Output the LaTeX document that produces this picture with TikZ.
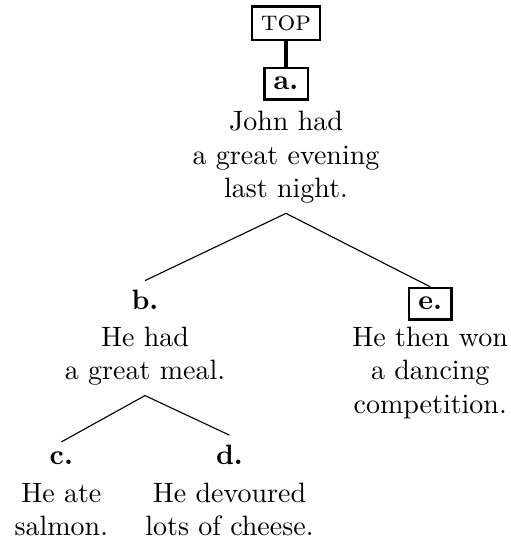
\documentclass[tikz,border=0pt]{standalone}
\usetikzlibrary{positioning}
\tikzset{
  lbl/.style={font=\bfseries, inner sep=3.33pt, anchor=base},
  boxlbl/.style={font=\bfseries, inner sep=3.33pt, draw, thick},
  sent/.style={align=center, anchor=base},
  branch/.style={thin},
}
\begin{document}
\begin{tikzpicture}
  \useasboundingbox (0,0) rectangle (6.414,-6.778);
  % root with its label
  \node[draw, thick, inner sep=3.2pt] (topnode) at (3.59,-0.29) {\textsc{top}};
  \node[boxlbl] (a) at (3.59,-1.05) {a.};
  \node[sent] (atxt) at ([yshift=-38.5pt]a.base) {John had\\a great evening\\last night.};
  \draw[line width=1.1pt] (topnode) -- (a);

  % second level
  \node[lbl] (b) at (1.82,-3.89) {b.};
  \node[sent] (btxt) at ([yshift=-25pt]b.base) {He had\\a great meal.};
  \node[boxlbl, anchor=base] (e) at (5.40,-3.89) {e.};
  \node[sent] (etxt) at ([yshift=-37pt]e.base) {He then won\\a dancing\\competition.};

  % third level
  \node[lbl] (c) at (0.77,-5.83) {c.};
  \node[sent] (ctxt) at ([yshift=-25.5pt]c.base) {He ate\\salmon.};
  \node[lbl] (d) at (2.88,-5.83) {d.};
  \node[sent] (dtxt) at ([yshift=-25.5pt]d.base) {He devoured\\lots of cheese.};

  \draw[branch] (atxt.south) -- (b.north);
  \draw[branch] (atxt.south) -- (e.north);
  \draw[branch] (btxt.south) -- (c.north);
  \draw[branch] (btxt.south) -- (d.north);
\end{tikzpicture}
\end{document}
